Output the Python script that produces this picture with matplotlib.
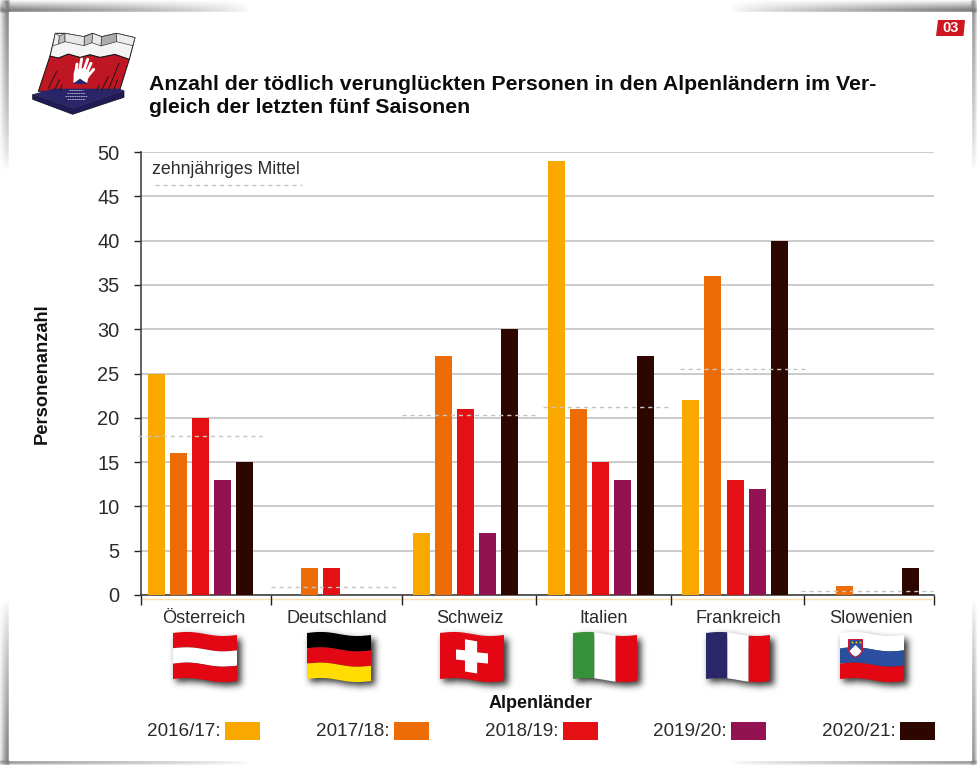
import numpy as np
import matplotlib
matplotlib.use("Agg")
import matplotlib.pyplot as plt
from matplotlib.patches import Polygon, Rectangle, Ellipse

plt.rcParams['font.family'] = ['Liberation Sans', 'DejaVu Sans']

W, H = 977, 765

# Data
countries = ["Österreich", "Deutschland", "Schweiz", "Italien", "Frankreich", "Slowenien"]
seasons = ["2016/17", "2017/18", "2018/19", "2019/20", "2020/21"]
season_colors = ["#F9A800", "#EE6C05", "#E51013", "#921252", "#2D0600"]
v_2016 = [25, 0, 7, 49, 22, 0]
v_2017 = [16, 3, 27, 21, 36, 1]
v_2018 = [20, 3, 21, 15, 13, 0]
v_2019 = [13, 0, 7, 13, 12, 0]
v_2020 = [15, 0, 30, 27, 40, 3]
ten_year_mean = [18.0, 0.9, 20.3, 21.2, 25.5, 0.5]
yticks = list(range(0, 55, 5))
title = ("Anzahl der tödlich verunglückten Personen in den Alpenländern im Ver-\n"
         "gleich der letzten fünf Saisonen")

TEXT = "#2b2b2b"
DASH = (3.0, 2.8)

fig = plt.figure(figsize=(W / 100, H / 100), dpi=100, facecolor="white")

# Full-figure layer addressed in pixels, for page decoration, flags and logo
deco = fig.add_axes([0, 0, 1, 1], zorder=0)
deco.set_xlim(0, W)
deco.set_ylim(H, 0)
deco.axis("off")


def blur(a, sigma):
    r = int(sigma * 3)
    k = np.exp(-0.5 * (np.arange(-r, r + 1) / sigma) ** 2)
    k /= k.sum()
    a = np.apply_along_axis(lambda c: np.convolve(c, k, mode="same"), 0, a)
    return np.apply_along_axis(lambda c: np.convolve(c, k, mode="same"), 1, a)


# Page shadow: strongest at the corners, fading along each edge
PL, PT, PR, PB = 9, 12, 972, 761
xx, yy = np.meshgrid(np.arange(W) + 0.5, np.arange(H) + 0.5)
fade_x = np.clip(np.maximum(1 - xx / 250, (xx - 730) / 240), 0, 1) ** 0.7
fade_y = np.clip(np.maximum(1 - yy / 170, (yy - 600) / 165), 0, 1) ** 0.7
top = np.clip(1 - (PT - yy) / 12, 0, 1) * (yy < PT) * fade_x
bottom = np.clip(1 - (yy - PB) / 5, 0, 1) * (yy >= PB) * fade_x
left = np.clip(1 - (PL - xx) / 10, 0, 1) * (xx < PL) * fade_y
right = np.clip(1 - (xx - PR) / 6, 0, 1) * (xx >= PR) * fade_y
alpha = blur(np.maximum.reduce([top, bottom, left, right]), 1.0) * 0.62
# Keep the page itself clean after softening
alpha[PT:PB, PL:PR] = 0

# Flag placement and waving outline
flag_left = [173, 307, 440, 573, 706, 840]
FLAG_W, FLAG_H, FLAG_T = 64, 46, 633


def flag_xy(x0, t, f):
    t = np.asarray(t, float)
    off = 2 * t - 1.5 * np.sin(2 * np.pi * t)
    return np.column_stack([x0 + t * FLAG_W, FLAG_T + f * FLAG_H + off])


# Soft dark shadow beneath every flag
mask = np.zeros((H, W))
for x0 in flag_left:
    for c in range(x0 + 3, x0 + FLAG_W + 4):
        t = (c - x0 - 3) / FLAG_W
        y = flag_xy(x0, [t], 0)[0, 1]
        mask[int(y) + 4:int(y + FLAG_H) + 4, c] = 1
alpha = np.maximum(alpha, blur(mask, 3.4) * 0.8)

shadow = np.zeros((H, W, 4))
shadow[..., 3] = alpha
deco.imshow(shadow, extent=(0, W, H, 0), interpolation="bilinear", aspect="auto", zorder=1)
deco.set_xlim(0, W)
deco.set_ylim(H, 0)


def hband(x0, f0, f1, color):
    ts = np.linspace(0, 1, 50)
    pts = np.vstack([flag_xy(x0, ts, np.full(50, f0)), flag_xy(x0, ts[::-1], np.full(50, f1))])
    deco.add_patch(Polygon(pts, closed=True, fc=color, ec="none", zorder=3))


def vband(x0, t0, t1, color):
    ts = np.linspace(t0, t1, 30)
    pts = np.vstack([flag_xy(x0, ts, np.zeros(30)), flag_xy(x0, ts[::-1], np.ones(30))])
    deco.add_patch(Polygon(pts, closed=True, fc=color, ec="none", zorder=3))


FR = "#E30613"
for x0, cols in [(flag_left[0], [FR, "white", FR]),
                 (flag_left[1], ["black", "#E30613", "#FFDD00"]),
                 (flag_left[5], ["white", "#2A4F9F", FR])]:
    for i, c in enumerate(cols):
        hband(x0, i / 3, (i + 1) / 3, c)

# Switzerland
hband(flag_left[2], 0, 1, FR)
sx = flag_left[2]
tc = [0.25, 0.39, 0.39, 0.58, 0.58, 0.75, 0.75, 0.58, 0.58, 0.39, 0.39, 0.25]
fc = [0.38, 0.38, 0.14, 0.14, 0.38, 0.38, 0.60, 0.60, 0.84, 0.84, 0.60, 0.60]
deco.add_patch(Polygon(flag_xy(sx, tc, np.array(fc)), closed=True, fc="white", ec="none", zorder=4))

# Italy and France
for x0, cols in [(flag_left[3], ["#35923A", "white", FR]),
                 (flag_left[4], ["#2A2768", "white", FR])]:
    for i, c in enumerate(cols):
        vband(x0, i / 3, (i + 1) / 3, c)

# Slovenian coat of arms
cx = flag_left[5] + 15.5
shield = [(cx - 7, 639.5), (cx + 7, 639.5), (cx + 7, 651), (cx + 4, 655), (cx, 657.5), (cx - 4, 655), (cx - 7, 651)]
deco.add_patch(Polygon(shield, closed=True, fc="#2A4F9F", ec="#D0142C", lw=0.7, zorder=5))
deco.add_patch(Polygon([(cx - 6, 651), (cx - 3, 648), (cx, 645), (cx + 3, 648), (cx + 6, 651),
                        (cx + 3.5, 654.5), (cx, 656.5), (cx - 3.5, 654.5)],
                       closed=True, fc="white", ec="none", zorder=6))
for dx, dy in [(-4, 642), (4, 642), (0, 641.5)]:
    deco.plot([cx + dx], [dy], "o", ms=1.4, color="#F4C400", mew=0, zorder=6)


# Logo, sketched on a 3x grid
def lg(points):
    return [(x / 3, y / 3) for x, y in points]


deco.add_patch(Polygon(lg([(98, 283), (98, 298), (218, 343), (372, 292), (372, 272), (220, 325)]),
                       closed=True, fc="#1F1B57", ec="#111", lw=0.5, zorder=3))
deco.add_patch(Polygon(lg([(150, 168), (175, 174), (205, 162), (240, 172), (270, 164), (300, 172),
                           (345, 163), (388, 178), (358, 274), (115, 274)]),
                       closed=True, fc="#BE1622", ec="#111", lw=0.7, zorder=3))
deco.add_patch(Polygon(lg([(166, 100), (195, 100), (250, 110), (278, 100), (305, 110), (350, 100),
                           (405, 113), (388, 178), (345, 163), (300, 172), (270, 164), (240, 172),
                           (205, 162), (175, 174), (150, 168)]),
                       closed=True, fc="#F4F4F4", ec="#111", lw=0.7, zorder=3))
folds = [[(166, 100), (178, 108), (176, 132), (158, 138)],
         [(178, 108), (195, 100), (195, 125), (176, 132)],
         [(253, 110), (278, 100), (276, 128), (252, 137)],
         [(278, 100), (305, 110), (303, 138), (276, 128)],
         [(305, 110), (350, 100), (350, 125), (303, 138)],
         [(195, 100), (253, 110), (252, 137), (195, 125)],
         [(350, 100), (405, 113), (398, 137), (350, 125)]]
fold_colors = ["#EDEDED", "#BEBEBE", "#BEBEBE", "#E8E8E8", "#ACACAC", "#E8E8E8", "#EDEDED"]
for pts, c in zip(folds, fold_colors):
    deco.add_patch(Polygon(lg(pts), closed=True, fc=c, ec="#333", lw=0.45, zorder=4))
deco.add_patch(Polygon(lg([(98, 283), (160, 266), (358, 266), (372, 272), (220, 325)]),
                       closed=True, fc="#2A2568", ec="none", zorder=4))
for a, b in [((145, 265), (170, 215)), ((165, 268), (178, 240)), ((180, 272), (186, 255)),
             ((290, 272), (298, 255)), ((305, 270), (325, 230)), ((325, 270), (357, 190)),
             ((342, 268), (352, 240))]:
    deco.plot([a[0] / 3, b[0] / 3], [a[1] / 3, b[1] / 3], color="#111", lw=0.6, zorder=5)
deco.add_patch(Polygon(lg([(222, 215), (268, 215), (262, 248), (220, 248)]), closed=True, fc="white", ec="none", zorder=5))
deco.add_patch(Ellipse((245 / 3, 224 / 3), 16, 13, fc="white", ec="none", zorder=5))
for a, b in [((227, 218), (231, 192)), ((239, 210), (245, 177)), ((252, 210), (263, 178)),
             ((262, 214), (273, 190)), ((262, 230), (281, 208))]:
    deco.plot([a[0] / 3, b[0] / 3], [a[1] / 3, b[1] / 3], color="white", lw=2.1,
              solid_capstyle="round", zorder=5)
deco.add_patch(Polygon(lg([(218, 252), (240, 236), (264, 252)]), closed=True, fc="#2A2568", ec="none", zorder=6))
for y, half in [(270, 22), (279, 28), (288, 32), (297, 26)]:
    deco.plot([(228 - half) / 3, (228 + half) / 3], [y / 3, y / 3], color="#D8D8E8", lw=0.5,
              dashes=(2.5, 0.7), zorder=6)

# Page number badge
deco.add_patch(Polygon([(938, 20), (965, 20), (963.5, 36), (936, 36)], closed=True, fc="#CE1720", ec="none", zorder=3))
deco.text(950.5, 28.4, "03", color="white", fontsize=10.5, fontweight="bold", ha="center", va="center", zorder=4)

# Title and axis captions
deco.text(149, 96, title, fontsize=15.35, fontweight="bold", color="#0d0d0d", va="center", ha="left",
          linespacing=1.33, zorder=4)
deco.text(541, 703, "Alpenländer", fontsize=13, fontweight="bold", color="#111", ha="center", va="center", zorder=4)
deco.text(42, 374, "Personenanzahl", fontsize=13.2, fontweight="bold", color="#111", rotation=90,
          ha="center", va="center", zorder=4)

# Season legend
swatch_left = [225, 394, 563, 731, 900]
for x0, s, c in zip(swatch_left, seasons, season_colors):
    deco.add_patch(Rectangle((x0, 722), 35, 18, fc=c, ec="none", zorder=3))
    deco.text(x0 - 4, 731.5, s + ":", fontsize=13.6, color=TEXT, ha="right", va="center", zorder=4)

# Faint line just below the category axis
deco.plot([143, 931], [598.5, 598.5], color="#FBDFAE", lw=1, zorder=2)

# Chart
AX_L, AX_R, AX_T, AX_B = 141, 934, 152, 595
ax = fig.add_axes([AX_L / W, 1 - AX_B / H, (AX_R - AX_L) / W, (AX_B - AX_T) / H], zorder=2)
ax.patch.set_alpha(0)
ax.set_xlim(-0.4467, 5.507)
ax.set_ylim(0, 50)

series = [v_2016, v_2017, v_2018, v_2019, v_2020]
positions = np.array([0.0, 0.983, 1.99, 3.004, 4.014, 5.0])
for k, (vals, c) in enumerate(zip(series, season_colors)):
    ax.bar(positions + (k - 2) / 6, vals, width=0.1276, color=c, linewidth=0, zorder=3)

ax.set_yticks(yticks)
ax.yaxis.grid(True, color="#BDBDBD", lw=1.1, zorder=1)
ax.set_axisbelow(True)
ax.tick_params(axis="y", direction="out", length=5, width=1, color="#222", labelsize=14.4,
               labelcolor=TEXT, pad=10.5)

# Group separators as major ticks, country names near the middle of each group
edges = np.array([-0.4467, 0.5270, 1.5135, 2.5195, 3.5330, 4.5315, 5.507])
label_shift = np.array([-0.015, 0.0, 0.008, 0.004, 0.004, 0.015])
ax.set_xticks(edges)
ax.set_xticklabels([])
ax.tick_params(axis="x", which="major", direction="out", length=7.5, width=1, color="#222")
ax.set_xticks((edges[:-1] + edges[1:]) / 2 + label_shift, minor=True)
ax.set_xticklabels(countries, minor=True)
ax.tick_params(axis="x", which="minor", length=0, labelsize=13.1, labelcolor=TEXT, pad=10.5)

# Ten-year means, spanning each country's group
mean_from = [-0.47, 0.53, 1.51, 2.57, 3.60, 4.51]
mean_to = [0.46, 1.50, 2.51, 3.53, 4.55, 5.50]
for v, a, b in zip(ten_year_mean, mean_from, mean_to):
    ax.plot([a, b], [v, v], color="#C4C4C4", lw=1, dashes=DASH, zorder=4, clip_on=False)

ax.text(0.0145, 0.9595, "zehnjähriges Mittel", transform=ax.transAxes, fontsize=12.8, color=TEXT,
        va="center", ha="left", zorder=5)
ax.plot([0.0182, 0.203], [0.9265, 0.9265], transform=ax.transAxes, color="#C4C4C4", lw=1,
        dashes=DASH, zorder=5)

for side in ("top", "right"):
    ax.spines[side].set_visible(False)
ax.spines["left"].set_color("#444")
ax.spines["left"].set_linewidth(1.2)
ax.spines["bottom"].set_color("#333")
ax.spines["bottom"].set_linewidth(1.1)

fig.savefig("out.png", dpi=100, facecolor="white")
